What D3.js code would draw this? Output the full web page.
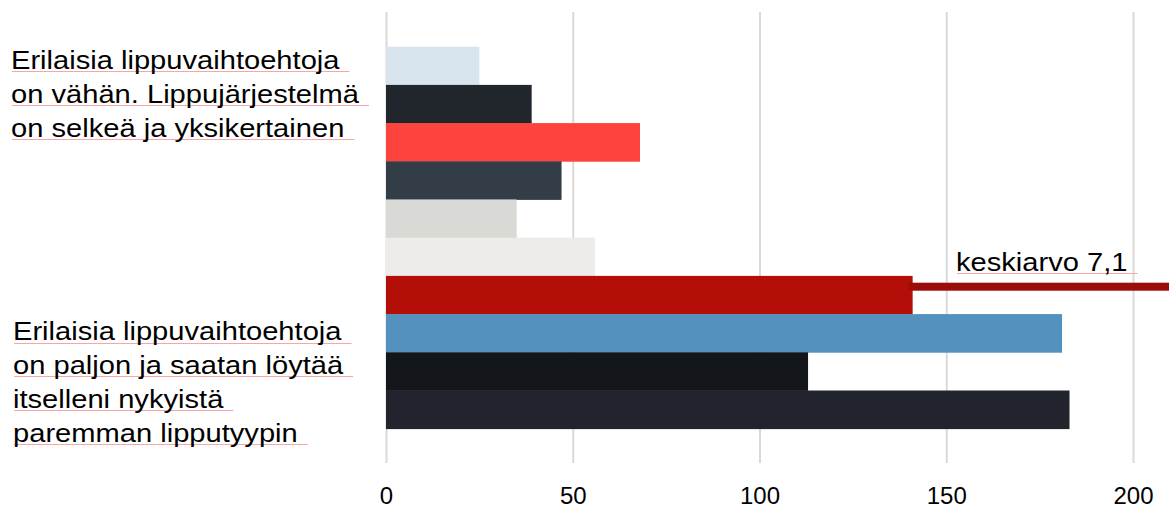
<!DOCTYPE html>
<html>
<head>
<meta charset="utf-8">
<script src="https://cdn.jsdelivr.net/npm/d3@7"></script>
<style>
  html, body { margin: 0; padding: 0; background: #fff; }
  svg { display: block; }
  text { font-family: "Liberation Sans", Arial, sans-serif; fill: #000; }
</style>
</head>
<body>
<svg id="chart" width="1169" height="510"></svg>
<script>
// Response counts, one bar each, top to bottom
const barIds = ["a1", "a2", "a3", "a4", "a5", "a6", "a7", "a8", "a9", "a10"];
const barValues = [25, 39, 68, 47, 35, 56, 141, 181, 113, 183];
const barColors = ["#d8e5ee", "#21262d", "#fc433e", "#333d48", "#d9dad5",
                   "#efebe8", "#b30e08", "#5391bf", "#13161b", "#21242c"];

// Statement labels on the left
const statementTop = ["Erilaisia lippuvaihtoehtoja", "on vähän. Lippujärjestelmä", "on selkeä ja yksikertainen"];
const statementBottom = ["Erilaisia lippuvaihtoehtoja", "on paljon ja saatan löytää", "itselleni nykyistä", "paremman lipputyypin"];

// Axis ticks
const tickValues = [0, 50, 100, 150, 200];

// Average marker
const meanLabel = "keskiarvo 7,1";
const meanStart = 140;

const W = 1169, H = 510;
const svg = d3.select("#chart");

const x = d3.scaleLinear().domain([0, 200]).range([386, 1133]);
const y = d3.scaleBand().domain(barIds).range([46.7, 428.7]).padding(0);

const gridTop = 12, gridBottom = 463;

// Gridlines + tick labels
const axis = d3.axisBottom(x)
  .tickValues(tickValues)
  .tickFormat(d3.format("d"))
  .tickSizeInner(-(gridBottom - gridTop))
  .tickSizeOuter(0)
  .tickPadding(24);

const gAxis = svg.append("g")
  .attr("transform", `translate(0,${gridBottom})`)
  .call(axis);
gAxis.select(".domain").remove();
gAxis.selectAll(".tick line").attr("stroke", "#d9d9d9").attr("stroke-width", 2);
gAxis.selectAll(".tick text")
  .attr("font-family", "Liberation Sans, Arial, sans-serif")
  .attr("font-size", 24)
  .attr("fill", "#000");

// Bars
svg.append("g")
  .selectAll("rect")
  .data(barValues)
  .join("rect")
  .attr("x", x(0))
  .attr("y", (d, i) => y(barIds[i]))
  .attr("width", d => x(d) - x(0))
  .attr("height", y.bandwidth() + 0.4)
  .attr("fill", (d, i) => barColors[i]);

// Text block with faint underline under each line
function textBlock(lines, x0, firstBaseline, step) {
  const g = svg.append("g");
  lines.forEach((line, i) => {
    const by = firstBaseline + i * step;
    const t = g.append("text")
      .attr("x", 0)
      .attr("y", by)
      .attr("font-size", 26)
      .attr("transform", `translate(${x0},0) scale(1.12,1)`)
      .text(line);
    const w = t.node().getComputedTextLength() * 1.12;
    const uy = Math.round(by + 2) + 0.5;
    g.insert("line", "text")
      .attr("x1", x0 + 1)
      .attr("x2", x0 + w + 10)
      .attr("y1", uy)
      .attr("y2", uy)
      .attr("stroke", "#f7a5a5")
      .attr("stroke-width", 1);
  });
}

textBlock(statementTop, 11, 69.3, 34);
textBlock(statementBottom, 13, 340.5, 33.7);

// Average line and its label
svg.append("rect")
  .attr("x", x(meanStart))
  .attr("y", 282.7)
  .attr("width", W - x(meanStart))
  .attr("height", 8)
  .attr("fill", "#9b0d0a");

textBlock([meanLabel], 956, 271, 0);
</script>
</body>
</html>
